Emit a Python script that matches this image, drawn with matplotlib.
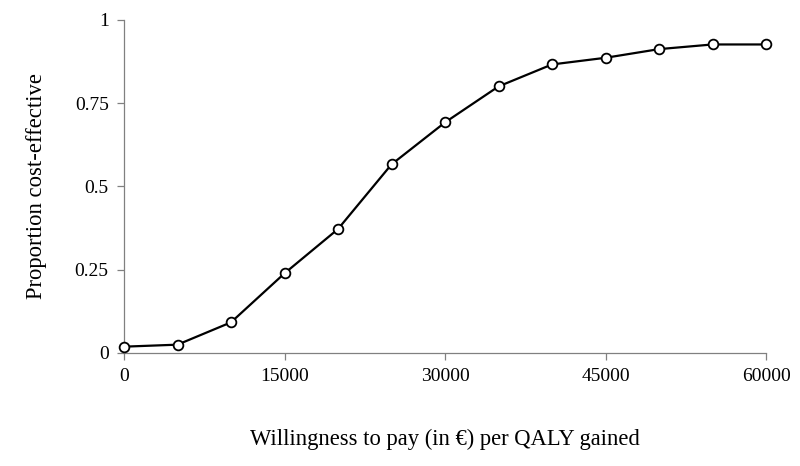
import matplotlib
matplotlib.use("Agg")
import matplotlib.pyplot as plt

wtp = [0, 5000, 10000, 15000, 20000, 25000, 30000, 35000, 40000, 45000, 50000, 55000, 60000]
prop = [0.019, 0.025, 0.092, 0.239, 0.372, 0.566, 0.692, 0.800, 0.866, 0.886, 0.912, 0.926, 0.926]
xticks = [0, 15000, 30000, 45000, 60000]
yticks = [0, 0.25, 0.5, 0.75, 1]
ytick_labels = ["0", "0.25", "0.5", "0.75", "1"]

plt.rcParams['font.family'] = ['Liberation Serif', 'DejaVu Serif']

fig = plt.figure(figsize=(8, 4.66), dpi=100)
ax = fig.add_axes([0.155, 0.2425, 0.8025, 0.715])
ax.plot(wtp, prop, color='black', linewidth=1.6, marker='o', markersize=7,
        markerfacecolor='white', markeredgecolor='black', markeredgewidth=1.3,
        clip_on=False, zorder=3)
ax.set_xlim(0, 60000)
ax.set_ylim(0, 1)
ax.set_xticks(xticks)
ax.set_xticklabels([str(v) for v in xticks])
ax.set_yticks(yticks)
ax.set_yticklabels(ytick_labels)
for s in ['top', 'right']:
    ax.spines[s].set_visible(False)
for s in ['left', 'bottom']:
    ax.spines[s].set_color('#808080')
    ax.spines[s].set_linewidth(0.9)
ax.tick_params(axis='both', colors='#808080', labelcolor='black', labelsize=14,
               length=5, width=0.9, direction='out')
ax.tick_params(axis='x', pad=6)
ax.tick_params(axis='y', pad=6)
ax.set_xlabel('Willingness to pay (in €) per QALY gained', fontsize=16.3, labelpad=31)
ax.set_ylabel('Proportion cost-effective', fontsize=16.3, labelpad=20)
fig.savefig('out.png', dpi=100, facecolor='white')
